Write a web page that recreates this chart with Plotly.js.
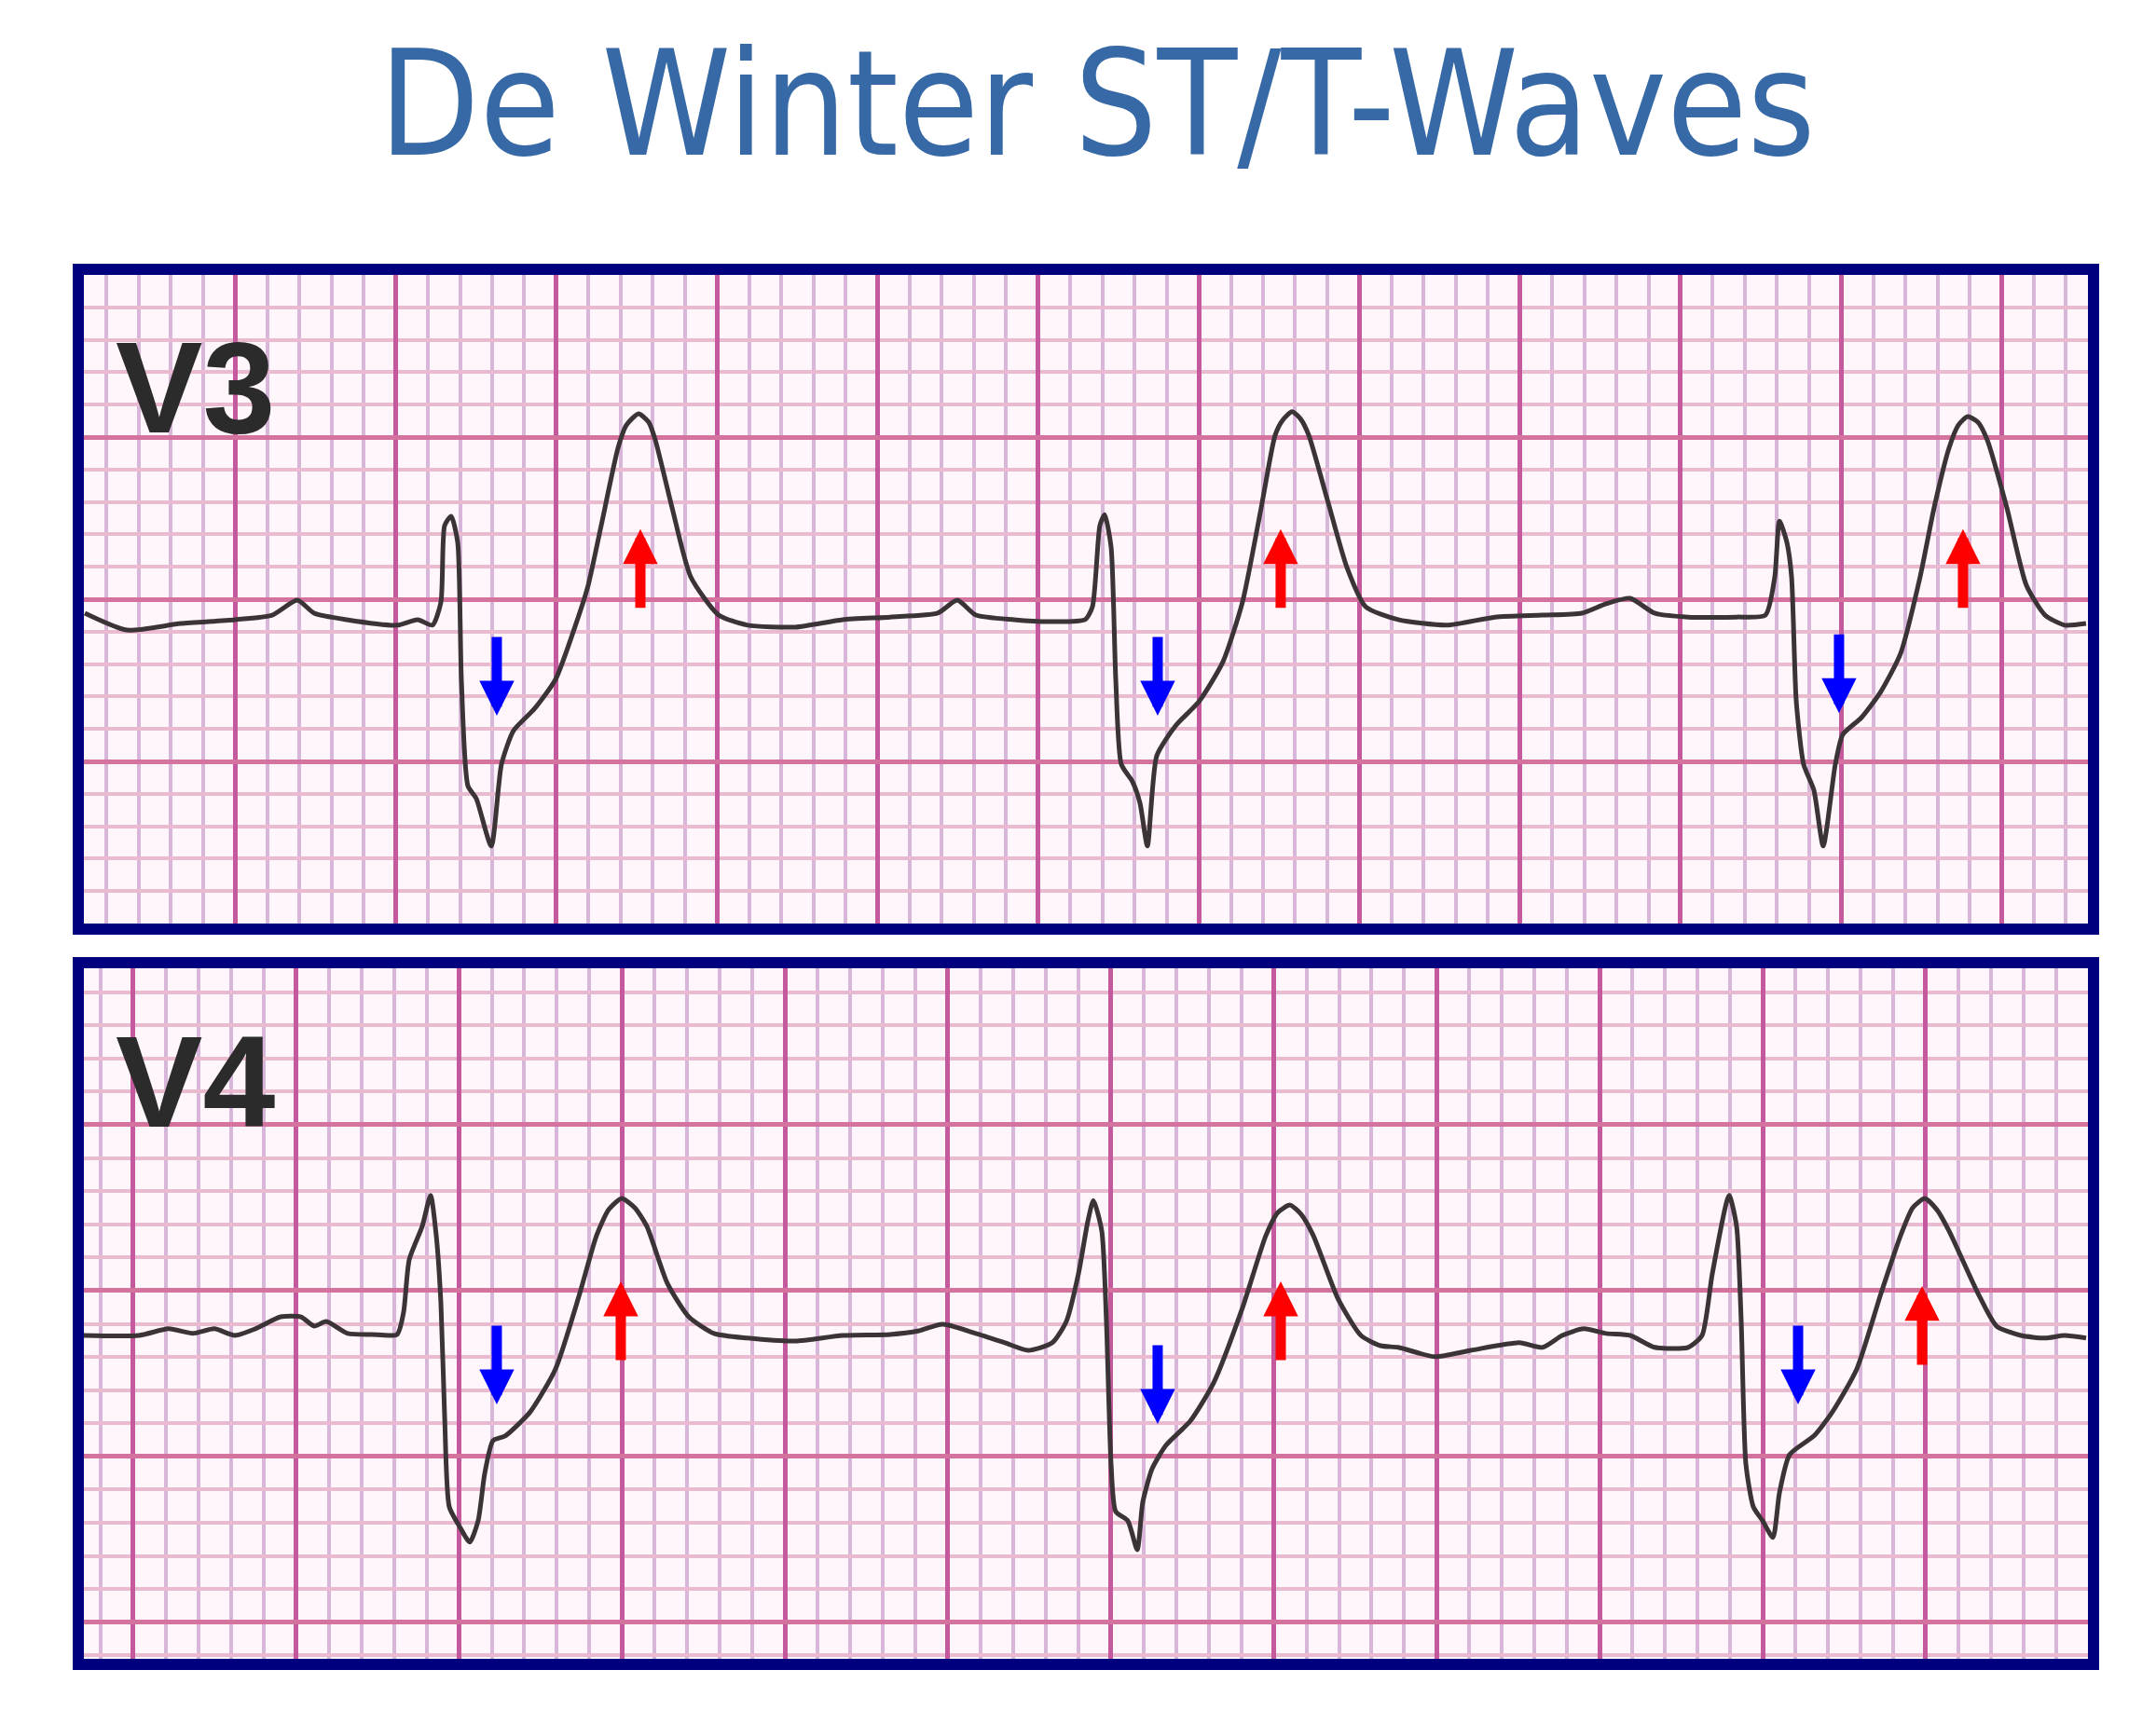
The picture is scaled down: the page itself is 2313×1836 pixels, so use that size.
<!DOCTYPE html>
<html>
<head>
<meta charset="utf-8">
<script src="https://cdn.plot.ly/plotly-3.0.1.min.js"></script>
<style>
  html, body { margin: 0; padding: 0; background: #ffffff; }
  #chart { width: 2313px; height: 1836px; }
</style>
</head>
<body>
<div id="chart"></div>
<script>
// ---------------- DATA (time in s, amplitude in mV, read from the strips) ----------------
const chartTitle = "De Winter ST/T-Waves";
const leadNames = ["V3", "V4"];

const v3Time = [0.0128,0.0650,0.1323,0.1997,0.2461,0.2774,0.2983,0.3389,0.4016,0.4272,0.4457,0.4562,0.4608,0.4690,0.4771,0.4817,0.4898,0.5003,0.5189,0.5316,0.5467,0.5723,0.5990,0.6245,0.6396,0.6558,0.6767,0.6872,0.7023,0.7150,0.7232,0.7441,0.7673,0.8021,0.8381,0.8973,0.9565,1.0157,1.0749,1.0992,1.1225,1.1700,1.2107,1.2583,1.2676,1.2768,1.2827,1.2908,1.2966,1.3035,1.3175,1.3268,1.3360,1.3476,1.3709,1.4010,1.4301,1.4544,1.4777,1.4951,1.5044,1.5160,1.5264,1.5369,1.5601,1.5845,1.6077,1.6483,1.7087,1.7690,1.8282,1.8770,1.9072,1.9373,1.9675,2.0093,2.0697,2.1056,2.1173,2.1231,2.1324,2.1382,2.1440,2.1532,2.1660,2.1776,2.1927,2.2020,2.2252,2.2496,2.2740,2.2983,2.3157,2.3343,2.3459,2.3575,2.3703,2.3819,2.4063,2.4306,2.4539,2.4782,2.5049];
const v3Volt = [-0.043,-0.095,-0.075,-0.063,-0.049,-0.003,-0.043,-0.063,-0.080,-0.063,-0.080,-0.009,0.227,0.256,0.175,-0.247,-0.575,-0.615,-0.761,-0.509,-0.405,-0.339,-0.247,-0.075,0.043,0.227,0.466,0.537,0.572,0.546,0.491,0.282,0.069,-0.049,-0.080,-0.086,-0.063,-0.055,-0.043,-0.003,-0.049,-0.063,-0.069,-0.063,-0.023,0.227,0.261,0.161,-0.247,-0.509,-0.563,-0.629,-0.761,-0.483,-0.391,-0.313,-0.193,-0.009,0.282,0.506,0.552,0.578,0.557,0.506,0.307,0.098,-0.023,-0.063,-0.080,-0.055,-0.049,-0.043,-0.014,0.003,-0.043,-0.055,-0.055,-0.049,0.069,0.241,0.175,0.069,-0.313,-0.509,-0.589,-0.761,-0.509,-0.417,-0.365,-0.284,-0.167,0.069,0.282,0.466,0.537,0.563,0.546,0.491,0.282,0.043,-0.049,-0.080,-0.075];

const v4Time = [0.1382,0.2069,0.2435,0.2732,0.2995,0.3247,0.3499,0.3808,0.4059,0.4220,0.4368,0.4632,0.4929,0.5238,0.5318,0.5387,0.5547,0.5650,0.5719,0.5776,0.5822,0.5879,0.6005,0.6130,0.6233,0.6314,0.6416,0.6565,0.6874,0.7183,0.7481,0.7686,0.7835,0.7995,0.8156,0.8304,0.8556,0.8819,0.9128,0.9540,1.0124,1.0707,1.1291,1.1645,1.1931,1.2343,1.2698,1.2984,1.3281,1.3453,1.3602,1.3716,1.3785,1.3888,1.3945,1.4002,1.4059,1.4208,1.4323,1.4391,1.4506,1.4677,1.4975,1.5261,1.5616,1.5902,1.6050,1.6199,1.6336,1.6485,1.6783,1.7069,1.7309,1.7526,1.7973,1.8419,1.9014,1.9300,1.9540,1.9803,2.0078,2.0375,2.0673,2.1085,2.1256,2.1382,2.1588,2.1680,2.1737,2.1794,2.1886,2.2000,2.2126,2.2206,2.2332,2.2629,2.2858,2.3156,2.3453,2.3693,2.3842,2.3991,2.4139,2.4288,2.4643,2.4872,2.5169,2.5467,2.5707,2.5970];
const v4Volt = [-0.135,-0.135,-0.115,-0.129,-0.115,-0.135,-0.115,-0.079,-0.079,-0.107,-0.093,-0.129,-0.132,-0.132,-0.065,0.093,0.194,0.287,0.166,-0.037,-0.379,-0.652,-0.711,-0.758,-0.694,-0.551,-0.452,-0.438,-0.365,-0.236,-0.008,0.166,0.244,0.278,0.250,0.194,0.022,-0.079,-0.129,-0.143,-0.152,-0.135,-0.132,-0.121,-0.101,-0.129,-0.157,-0.180,-0.157,-0.093,0.051,0.208,0.272,0.180,-0.093,-0.522,-0.666,-0.694,-0.781,-0.638,-0.537,-0.466,-0.393,-0.278,-0.051,0.166,0.236,0.258,0.230,0.166,-0.022,-0.135,-0.166,-0.171,-0.199,-0.180,-0.157,-0.171,-0.135,-0.115,-0.129,-0.135,-0.171,-0.171,-0.135,0.051,0.287,0.194,-0.093,-0.522,-0.652,-0.694,-0.744,-0.610,-0.494,-0.438,-0.365,-0.236,-0.008,0.166,0.250,0.278,0.244,0.180,-0.008,-0.107,-0.135,-0.143,-0.135,-0.143];

// arrow tips: blue (ST depression, pointing down) and red (tall T wave, pointing up)
const v3DownT = [0.5258, 1.3488, 2.1973];
const v3DownV = [-0.359, -0.359, -0.351];
const v3UpT   = [0.7046, 1.5020, 2.3517];
const v3UpV   = [0.216, 0.216, 0.216];
const v4DownT = [0.6462, 1.4574, 2.2435];
const v4DownV = [-0.343, -0.402, -0.343];
const v4UpT   = [0.7984, 1.6085, 2.3957];
const v4UpV   = [0.028, 0.028, 0.014];

// ---------------- STYLE ----------------
const W = 2313, H = 1836;
const traceColor = "#3b3437";
const borderColor = "#00007f";
const paperBg = "#fff6fb";

function axisX(range, dtickMaj, dtickMin) {
  return {
    range: range, fixedrange: true,
    showticklabels: false, ticks: "", zeroline: false,
    showgrid: true, dtick: dtickMaj, tick0: 0,
    gridcolor: "#c45a9d", gridwidth: 5,
    minor: { dtick: dtickMin, tick0: 0, showgrid: true, gridcolor: "#d8b6d9", gridwidth: 4 },
    showline: true, mirror: true, linewidth: 12, linecolor: borderColor
  };
}
function axisY(range, dtickMaj, dtickMin) {
  return {
    range: range, fixedrange: true,
    showticklabels: false, ticks: "", zeroline: false,
    showgrid: true, dtick: dtickMaj, tick0: 0,
    gridcolor: "#d5739f", gridwidth: 5,
    minor: { dtick: dtickMin, tick0: 0, showgrid: true, gridcolor: "#eabad0", gridwidth: 4 },
    showline: true, mirror: true, linewidth: 12, linecolor: borderColor
  };
}

const xDom = [90 / W, 2240 / W];
const lineStyle = { color: traceColor, width: 5, shape: "spline", smoothing: 0.6 };

const traces = [
  { x: v3Time, y: v3Volt, xaxis: "x", yaxis: "y", type: "scatter", mode: "lines",
    line: lineStyle, hoverinfo: "skip" },
  { x: v4Time, y: v4Volt, xaxis: "x2", yaxis: "y2", type: "scatter", mode: "lines",
    line: lineStyle, hoverinfo: "skip" }
];

const annotations = [];
function addArrows(ts, vs, xr, yr, color, dir) {
  for (let i = 0; i < ts.length; i++) {
    annotations.push({
      x: ts[i], y: vs[i], xref: xr, yref: yr, text: "",
      showarrow: true, arrowhead: 2, arrowsize: 0.68, arrowwidth: 11,
      arrowcolor: color, ax: 0, ay: dir === "down" ? -86 : 86, standoff: 0
    });
  }
}
addArrows(v3DownT, v3DownV, "x", "y", "#0000ff", "down");
addArrows(v3UpT, v3UpV, "x", "y", "#ff0000", "up");
addArrows(v4DownT, v4DownV, "x2", "y2", "#0000ff", "down");
addArrows(v4UpT, v4UpV, "x2", "y2", "#ff0000", "up");

const labelFont = { family: "Liberation Sans, Arial, sans-serif", size: 140, color: "#2b2b2b", weight: 700 };
annotations.push({ text: "<b>" + leadNames[0] + "</b>", xref: "paper", yref: "paper",
  x: 122 / W, y: 1 - 416 / H, xanchor: "left", yanchor: "middle", showarrow: false, font: labelFont });
annotations.push({ text: "<b>" + leadNames[1] + "</b>", xref: "paper", yref: "paper",
  x: 122 / W, y: 1 - 1160 / H, xanchor: "left", yanchor: "middle", showarrow: false, font: labelFont });

const layout = {
  width: W, height: H,
  margin: { l: 0, r: 0, t: 0, b: 0, pad: 0 },
  paper_bgcolor: "#ffffff", plot_bgcolor: paperBg,
  showlegend: false, hovermode: false,
  title: { text: chartTitle, x: 1177 / W, xanchor: "center", y: 1 - 111 / H, yanchor: "middle",
           font: { family: "DejaVu Sans Condensed, DejaVu Sans, sans-serif", size: 156, color: "#3669a6" } },
  xaxis: Object.assign(axisX([0.0116, 2.5073], 0.2, 0.04), { domain: xDom, anchor: "y" }),
  yaxis: Object.assign(axisY([-1.0, 1.0], 0.5, 0.1), { domain: [1 - 991 / H, 1 - 295 / H], anchor: "x" }),
  xaxis2: Object.assign(axisX([0.1394, 2.5993], 0.2, 0.04), { domain: xDom, anchor: "y2" }),
  yaxis2: Object.assign(axisY([-1.110, 0.972], 0.5, 0.1), { domain: [1 - 1780 / H, 1 - 1039 / H], anchor: "x2" }),
  annotations: annotations
};

Plotly.newPlot("chart", traces, layout, { staticPlot: true, displayModeBar: false });
</script>
</body>
</html>
